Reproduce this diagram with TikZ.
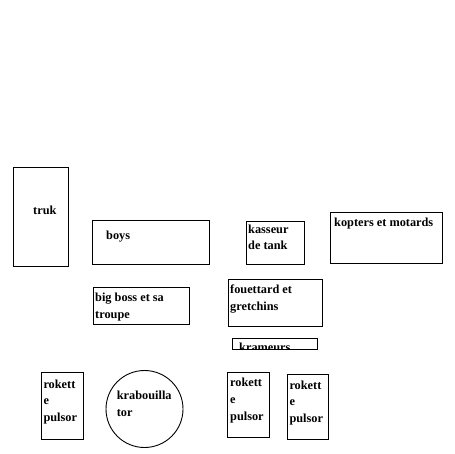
\documentclass[tikz,border=0pt]{standalone}
\usepackage{fontspec}
\setmainfont{Liberation Serif}
\tikzset{
  zone/.style={draw, line width=0.9pt, inner sep=0pt},
  % base anchor sits on the last line of a wrapped label
  lbl/.style={font=\bfseries\fontsize{12.3}{16.8}\selectfont, align=left, inner sep=0pt, anchor=base west}
}
\begin{document}
\begin{tikzpicture}[x=1pt, y=-1pt]
\useasboundingbox (0,0) rectangle (455,454);
% boxes (pixel coordinates, y downwards)
\node[zone, anchor=north west, minimum width=55pt, minimum height=99pt] (truk) at (13,167) {};
\node[zone, anchor=north west, minimum width=117pt, minimum height=44pt] (boys) at (92,220) {};
\node[zone, anchor=north west, minimum width=58pt, minimum height=43pt] (kasseur) at (246,221) {};
\node[zone, anchor=north west, minimum width=112pt, minimum height=51pt] (kopters) at (330,212) {};
\node[zone, anchor=north west, minimum width=96pt, minimum height=37pt] (bigboss) at (93,287) {};
\node[zone, anchor=north west, minimum width=94pt, minimum height=47pt] (fouettard) at (228,279) {};
\node[zone, anchor=north west, minimum width=85pt, minimum height=11pt] (krameurs) at (232,338) {};
\node[zone, anchor=north west, minimum width=42pt, minimum height=67pt] (rokettA) at (41,372) {};
\node[zone, circle, minimum size=77pt] (krabouilla) at (144.5,409) {};
\node[zone, anchor=north west, minimum width=42pt, minimum height=65pt] (rokettB) at (227,372) {};
\node[zone, anchor=north west, minimum width=41pt, minimum height=65pt] (rokettC) at (287,374) {};
% labels (y = baseline of last line)
\node[lbl] (truk-t) at (33,215) {truk};
\node[lbl] (boys-t) at (106,240) {boys};
\node[lbl] (kasseur-t) at (248,250) {kasseur\\de tank};
\node[lbl] (kopters-t) at (334,226.7) {kopters et motards};
\node[lbl] (bigboss-t) at (95,318.3) {big boss et sa\\troupe};
\node[lbl] (fouettard-t) at (230,310) {fouettard et\\gretchins};
\begin{scope}
  \clip (krameurs.north west) rectangle (krameurs.south east);
  \node[lbl] (krameurs-t) at (239,351) {krameurs};
\end{scope}
\node[lbl] (rokettA-t) at (43.3,421.7) {rokett\\e\\pulsor};
\node[lbl] (krabouilla-t) at (116.7,416.7) {krabouilla\\tor};
\node[lbl] (rokettB-t) at (230,420) {rokett\\e\\pulsor};
\node[lbl] (rokettC-t) at (289.3,422.7) {rokett\\e\\pulsor};
\end{tikzpicture}
\end{document}
